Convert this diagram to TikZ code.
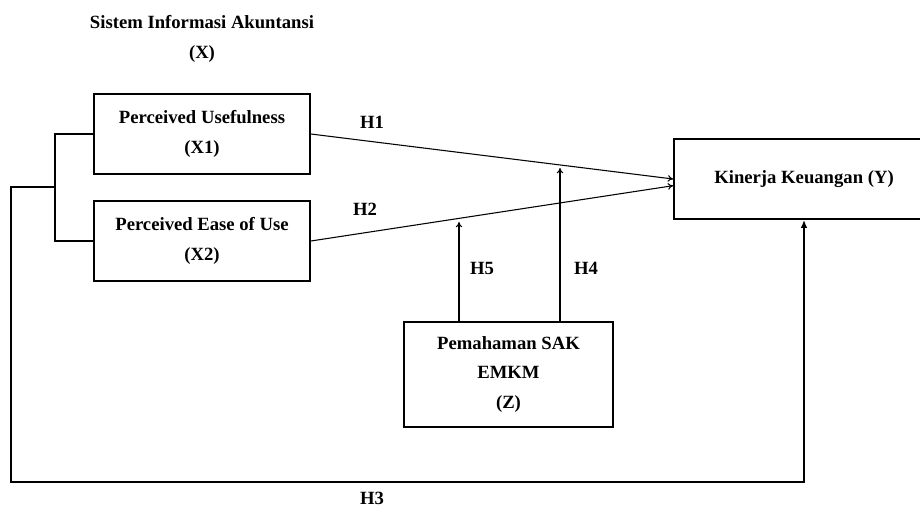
\documentclass[tikz,border=0pt]{standalone}
\usepackage{fontspec}
\setmainfont{Liberation Serif}
\usepackage{tikz}
\usetikzlibrary{arrows.meta,calc,positioning}

\begin{document}
\begin{tikzpicture}[x=0.75pt, y=-0.75pt,
  every node/.style={font=\fontsize{14}{22}\selectfont\bfseries, align=center},
  varbox/.style={draw, line width=1.3pt, inner sep=0pt, minimum width=162pt, minimum height=60pt},
  hlabel/.style={inner sep=0pt},
  link/.style={line width=0.8pt, -{To[length=4pt,width=5pt]}}]
\useasboundingbox (0,0) rectangle (920,507);
% --- variabili ---
\node (X) at (202,39) {Sistem Informasi Akuntansi\\(X)};
\node[varbox] (X1) at (202,134) {Perceived Usefulness\\(X1)};
\node[varbox] (X2) at (202,241) {Perceived Ease of Use\\(X2)};
\node[varbox, minimum width=195pt] (Y) at (804,179) {Kinerja Keuangan (Y)};
\node[varbox, minimum width=157pt, minimum height=79pt] (Z) at (508.5,374.5) {Pemahaman SAK\\EMKM\\(Z)};
% --- ipotesi ---
\coordinate (br) at (55,187);
\coordinate (lo) at (11,482);
\coordinate (h4) at (560,168);
\coordinate (h5) at (459,222);
\draw[line width=1.3pt] (X1.west) -| (br) |- (X2.west);
\draw[line width=1.3pt, -{Latex[length=6pt,width=5pt]}] (br) -| (lo) -| (Y.south);
\draw[link] (X1.east) -- (Y.west);
\draw[link] (X2.east) -- ([yshift=-5pt]Y.west);
\draw[link] (h4 |- Z.north) -- (h4);
\draw[link] (h5 |- Z.north) -- (h5);
\node[hlabel] (H1) at (372,122) {H1};
\node[hlabel] (H2) at (365,209) {H2};
\node[hlabel] (H5) at (482,268) {H5};
\node[hlabel] (H4) at (586,268) {H4};
\node[hlabel] (H3) at (372,498) {H3};
\end{tikzpicture}
\end{document}
